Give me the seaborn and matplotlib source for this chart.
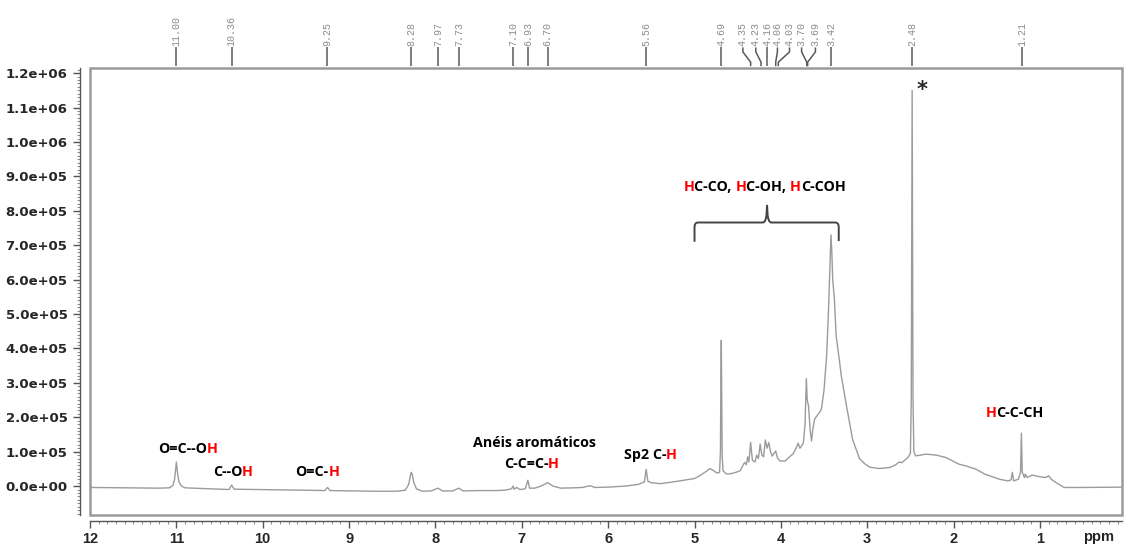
import matplotlib
matplotlib.use("Agg")
import matplotlib.pyplot as plt
from matplotlib.patches import Rectangle, PathPatch
from matplotlib.path import Path
from matplotlib.ticker import MultipleLocator, FuncFormatter, FixedLocator
from matplotlib.font_manager import FontProperties
import seaborn as sns
import pandas as pd

# ---------------- data ----------------
ppm = [12.00, 11.60, 11.20, 11.08, 11.04, 11.02, 11.00, 10.985, 10.97, 10.94, 10.90,
       10.70, 10.50, 10.39, 10.36, 10.33, 10.10, 9.80, 9.50, 9.28, 9.25, 9.22, 9.00,
       8.70, 8.45, 8.35, 8.31, 8.29, 8.28, 8.27, 8.25, 8.22, 8.15, 8.05, 7.97, 7.92,
       7.80, 7.73, 7.68, 7.50, 7.30, 7.20, 7.12, 7.10, 7.09, 7.06, 7.02, 6.96, 6.93,
       6.91, 6.85, 6.78, 6.70, 6.64, 6.55, 6.40, 6.30, 6.21, 6.15, 6.00, 5.80, 5.65,
       5.58, 5.56, 5.54, 5.50, 5.40, 5.25, 5.10, 5.00, 4.94, 4.88, 4.82, 4.78, 4.74,
       4.71, 4.70, 4.695, 4.69, 4.685, 4.68, 4.67, 4.63, 4.58, 4.52, 4.47, 4.44, 4.42,
       4.40, 4.385, 4.37, 4.35, 4.33, 4.30, 4.28, 4.26, 4.24, 4.22, 4.20, 4.18, 4.16,
       4.14, 4.12, 4.10, 4.08, 4.06, 4.04, 4.01, 3.95, 3.90, 3.86, 3.82, 3.80, 3.78,
       3.76, 3.74, 3.72, 3.705, 3.695, 3.68, 3.66, 3.645, 3.63, 3.61, 3.58, 3.55, 3.53,
       3.50, 3.47, 3.45, 3.43, 3.42, 3.41, 3.40, 3.38, 3.36, 3.33, 3.30, 3.24, 3.17,
       3.09, 3.03, 2.97, 2.86, 2.74, 2.67, 2.63, 2.60, 2.53, 2.50, 2.49, 2.485, 2.48,
       2.475, 2.47, 2.46, 2.44, 2.38, 2.32, 2.20, 2.09, 1.94, 1.85, 1.74, 1.64, 1.55,
       1.47, 1.37, 1.335, 1.32, 1.305, 1.25, 1.225, 1.215, 1.205, 1.18, 1.17, 1.15,
       1.09, 1.00, 0.93, 0.90, 0.87, 0.82, 0.72, 0.50, 0.05]
intensity = [-4000, -5000, -6000, -5000, 2000, 20000, 70000, 35000, 12000, 0, -5000,
             -7000, -9000, -10000, 3000, -9000, -10000, -11000, -12000, -13000, -4000, -13000, -14000,
             -15000, -15000, -12000, 5000, 30000, 40000, 35000, 10000, -8000, -15000, -14000, -6000, -14000,
             -14000, -6000, -14000, -13000, -13000, -12000, -8000, 0, -9000, -4000, -10000, -8000, 17000,
             -6000, -6000, 0, 10000, 0, -6000, -5000, -4000, 1000, -4000, -3000, 0, 5000,
             12000, 49000, 14000, 10000, 7000, 12000, 18000, 22000, 30000, 40000, 51000, 45000, 38000,
             40000, 100000, 300000, 424000, 280000, 90000, 45000, 35000, 36000, 40000, 45000, 60000, 69000,
             62000, 85000, 70000, 127000, 75000, 70000, 90000, 80000, 122000, 90000, 85000, 134000, 110000,
             127000, 100000, 87000, 95000, 102000, 82000, 73000, 73000, 85000, 93000, 112000, 125000, 110000,
             117000, 125000, 180000, 312000, 250000, 233000, 160000, 131000, 165000, 194000, 205000, 215000, 225000,
             280000, 380000, 500000, 650000, 730000, 680000, 600000, 542000, 436000, 380000, 320000, 233000, 136000,
             80000, 65000, 55000, 51000, 54000, 62000, 70000, 68000, 83000, 95000, 250000, 700000, 1150000,
             700000, 250000, 100000, 88000, 90000, 93000, 90000, 83000, 64000, 58000, 49000, 35000, 27000,
             20000, 15000, 18000, 40000, 15000, 20000, 40000, 154000, 40000, 25000, 35000, 25000,
             32000, 27000, 25000, 30000, 20000, 11000, -4000, -4000, -3000]

peak_labels = ["11.00", "10.36", "9.25", "8.28", "7.97", "7.73", "7.10", "6.93", "6.70",
               "5.56", "4.69", "4.35", "4.23", "4.16", "4.06", "4.03", "3.70", "3.69",
               "3.42", "2.48", "1.21"]
peak_label_x = [11.00, 10.36, 9.25, 8.28, 7.97, 7.73, 7.10, 6.93, 6.70,
                5.56, 4.69, 4.44, 4.29, 4.16, 4.04, 3.90, 3.76, 3.60,
                3.42, 2.48, 1.21]

x_ticks = [12, 11, 10, 9, 8, 7, 6, 5, 4, 3, 2, 1]
y_ticks = [0, 1e5, 2e5, 3e5, 4e5, 5e5, 6e5, 7e5, 8e5, 9e5, 1.0e6, 1.1e6, 1.2e6]

# annotations: text, indices of characters drawn in red, left x (ppm), centre y
annotations = [
    ("O=C--OH", [6], 11.21, 107000),
    ("C--OH", [4], 10.58, 41000),
    ("O=C-H", [4], 9.62, 41000),
    ("Anéis aromáticos", [], 7.57, 125000),
    ("C-C=C-H", [6], 7.21, 64000),
    ("Sp2 C-H", [6], 5.82, 90000),
    ("HC-CO, HC-OH, HC-COH", [0, 7, 14], 5.13, 869000),
    ("HC-C-CH", [0], 1.63, 212000),
]

# ---------------- figure ----------------
sns.set_style("white")
plt.rcParams["font.family"] = ["DejaVu Sans"]

fig = plt.figure(figsize=(11.29, 5.46), dpi=100)
ax = fig.add_axes([90 / 1129, 31 / 546, 1032 / 1129, 447 / 546])

df = pd.DataFrame({"ppm": ppm, "intensity": intensity})
sns.lineplot(data=df, x="ppm", y="intensity", estimator=None, color="#9b9b9b",
             linewidth=1.0, ax=ax)

ax.set_xlim(12, 0.05)
ax.set_ylim(-84000, 1215000)
ax.set_xlabel("")
ax.set_ylabel("")

# spines / frame
for s in ["top", "right"]:
    ax.spines[s].set_visible(False)
ax.spines["left"].set_position(("outward", 7.2))
ax.spines["bottom"].set_position(("outward", 4.0))
ax.spines["left"].set_color("#555555")
ax.spines["bottom"].set_color("#555555")
ax.spines["left"].set_linewidth(1.0)
ax.spines["bottom"].set_linewidth(1.0)
ax.add_patch(Rectangle((0, 0), 1, 1, transform=ax.transAxes, fill=False,
                       ec="#9a9a9a", lw=1.8, clip_on=False, zorder=5))

ax.yaxis.set_major_locator(FixedLocator(y_ticks))
ax.yaxis.set_minor_locator(MultipleLocator(1e4))
ax.yaxis.set_major_formatter(FuncFormatter(lambda v, p: f"{v:.1e}"))
ax.xaxis.set_major_locator(FixedLocator(x_ticks))
ax.xaxis.set_minor_locator(MultipleLocator(0.1))
ax.tick_params(axis="y", which="major", direction="out", length=5, width=1,
               color="#555555", pad=4, left=True)
ax.tick_params(axis="y", which="minor", direction="out", length=2.5, width=0.6,
               color="#777777", left=True)
ax.tick_params(axis="x", which="major", direction="out", length=5, width=1,
               color="#555555", pad=3, bottom=True)
ax.tick_params(axis="x", which="minor", direction="out", length=2.5, width=0.6,
               color="#777777", bottom=True)
for lab in ax.get_yticklabels():
    lab.set_fontweight("bold")
    lab.set_fontsize(9.5)
    lab.set_family(["DejaVu Sans"])
for lab in ax.get_xticklabels():
    lab.set_fontweight("bold")
    lab.set_fontsize(10.5)
    lab.set_family(["Liberation Sans Narrow", "Liberation Sans", "DejaVu Sans"])

ax.text(0.32, -0.049, "ppm", transform=ax.get_xaxis_transform(), ha="center",
        va="center", fontsize=10.5, fontweight="bold",
        family=["Liberation Sans Narrow", "Liberation Sans", "DejaVu Sans"])

# peak labels on top
tr = ax.get_xaxis_transform()
for lab, lx in zip(peak_labels, peak_label_x):
    px = float(lab)
    ax.plot([lx, lx, px, px], [1.046, 1.036, 1.013, 1.004], transform=tr,
            color="#5a5a5a", lw=1.1, clip_on=False, solid_capstyle="butt")
    ax.text(lx, 1.050, lab, transform=tr, rotation=90, ha="center", va="bottom",
            fontsize=7.2, color="#8c8c8c", family=["Liberation Mono", "DejaVu Sans Mono"])

# labels: colour runs placed at the pen advance of their prefix
renderer = fig.canvas.get_renderer()
fp = FontProperties(family=["Open Sans", "DejaVu Sans"], weight="bold", size=10.3)


def ink_w(s):
    return renderer.get_text_width_height_descent(s, fp, ismath=False)[0]


base_w = ink_w("II")


def advance(s):
    if not s:
        return 0.0
    return ink_w("I" + s + "I") - base_w


for text, red_idx, x0, y0 in annotations:
    runs = []
    start = 0
    for i in range(1, len(text) + 1):
        if i == len(text) or ((i in red_idx) != ((i - 1) in red_idx)):
            runs.append((start, i, (start in red_idx)))
            start = i
    for s, e, is_red in runs:
        off = advance(text[:s]) * 72.0 / fig.dpi
        ax.annotate(text[s:e], xy=(x0, y0), xycoords="data",
                    xytext=(off, 0), textcoords="offset points",
                    fontproperties=fp, color="#ff0000" if is_red else "black",
                    ha="left", va="center")

# asterisk
ax.text(2.36, 1150000, "*", fontsize=15, fontweight="bold", ha="center",
        va="center", family=["DejaVu Sans"])

# curly bracket
verts = [(5.00, 710e3), (5.00, 752e3), (5.00, 766e3), (4.96, 766e3),
         (4.21, 766e3), (4.17, 766e3), (4.165, 795e3), (4.16, 817e3),
         (4.155, 795e3), (4.15, 766e3), (4.11, 766e3), (3.37, 766e3),
         (3.33, 766e3), (3.33, 752e3), (3.33, 712e3)]
codes = [Path.MOVETO, Path.LINETO, Path.CURVE3, Path.CURVE3,
         Path.LINETO, Path.CURVE3, Path.CURVE3, Path.LINETO,
         Path.LINETO, Path.CURVE3, Path.CURVE3, Path.LINETO,
         Path.CURVE3, Path.CURVE3, Path.LINETO]
ax.add_patch(PathPatch(Path(verts, codes), fill=False, ec="#444444", lw=1.4, zorder=4))

fig.savefig("out.png", dpi=100, facecolor="white")
